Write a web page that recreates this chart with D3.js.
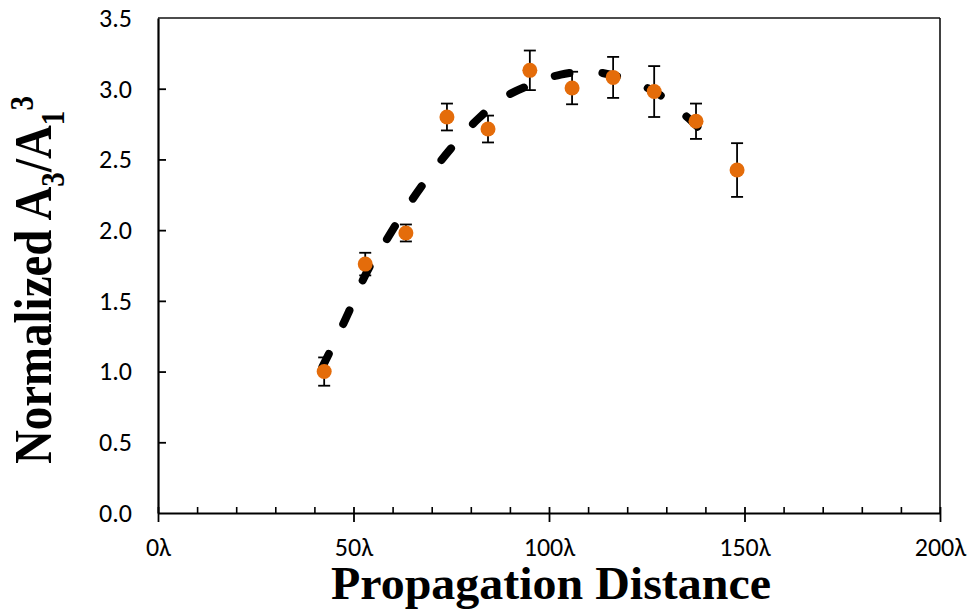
<!DOCTYPE html>
<html><head><meta charset="utf-8">
<script src="https://cdn.jsdelivr.net/npm/d3@7"></script>
<style>body{margin:0;background:#fff}svg{display:block}</style>
</head><body>
<svg id="c" width="968" height="611"></svg>
<script>
// Data
const distances = [42.5, 53, 63.4, 73.9, 84.4, 95.1, 105.9, 116.4, 126.9, 137.6, 148.1];
const ratios    = [1.00, 1.76, 1.98, 2.80, 2.715, 3.13, 3.005, 3.08, 2.98, 2.77, 2.425];
const errors    = [0.10, 0.08, 0.06, 0.095, 0.095, 0.14, 0.115, 0.145, 0.18, 0.125, 0.19];
const fitX = [42, 45, 48.6, 50.9, 54.7, 57.5, 63.4, 69.8, 75, 78.8, 82, 88, 95.5, 103, 111, 117, 122, 127.6, 135.3, 141.2];
const fitY = [1.03, 1.2, 1.41, 1.56, 1.77, 1.89, 2.15, 2.40, 2.58, 2.70, 2.79, 2.93, 3.03, 3.10, 3.12, 3.09, 3.04, 2.97, 2.80, 2.645];
const xTicks = [0, 50, 100, 150, 200];
const xMinorTicks = [10,20,30,40,60,70,80,90,110,120,130,140,160,170,180,190];
const yTicks = [0, 0.5, 1.0, 1.5, 2.0, 2.5, 3.0, 3.5];

const svg = d3.select("#c");
const L = 158, R = 940, T = 18, B = 513;
const x = d3.scaleLinear().domain([0, 200]).range([L, R]);
const y = d3.scaleLinear().domain([0, 3.5]).range([B, T]);
const tickFont = "Carlito, Lato, 'Open Sans', sans-serif";

// frame top & right
svg.append("line").attr("x1", L).attr("x2", R).attr("y1", T).attr("y2", T)
  .attr("stroke", "#111").attr("stroke-width", 1.6);
svg.append("line").attr("x1", R).attr("x2", R).attr("y1", T).attr("y2", B)
  .attr("stroke", "#111").attr("stroke-width", 1.6);

// y axis
const yAx = svg.append("g").attr("transform", `translate(${L},0)`)
  .call(d3.axisLeft(y).tickValues(yTicks).tickFormat(d3.format(".1f")).tickSizeInner(-8).tickSizeOuter(0).tickPadding(26));
yAx.select(".domain").attr("stroke", "#000").attr("stroke-width", 2.2);
yAx.selectAll(".tick line").attr("stroke", "#000").attr("stroke-width", 1.8)
  .filter(d => d === 0 || d === 3.5).remove();
yAx.selectAll("text").attr("font-family", tickFont).attr("font-size", 26).attr("fill", "#000");

// x axis minor ticks (inside)
svg.append("g").attr("transform", `translate(0,${B})`)
  .call(d3.axisBottom(x).tickValues(xMinorTicks).tickSize(-6).tickFormat(""))
  .call(g => g.select(".domain").remove())
  .selectAll("line").attr("stroke", "#000").attr("stroke-width", 1.6);
// x axis major ticks crossing
const xAx = svg.append("g").attr("transform", `translate(0,${B})`)
  .call(d3.axisBottom(x).tickValues(xTicks).tickFormat(d => d + "λ").tickSizeInner(9).tickSizeOuter(0).tickPadding(16));
xAx.select(".domain").attr("stroke", "#000").attr("stroke-width", 2.2);
xAx.selectAll(".tick line").attr("stroke", "#000").attr("stroke-width", 1.8).attr("y1", -6);
xAx.selectAll("text").attr("font-family", tickFont).attr("font-size", 26).attr("fill", "#000");

// fit curve (dashed)
const fitPts = fitX.map((d, i) => [d, fitY[i]]);
svg.append("path").datum(fitPts)
  .attr("d", d3.line().x(d => x(d[0])).y(d => y(d[1])).curve(d3.curveCatmullRom))
  .attr("fill", "none").attr("stroke", "#000").attr("stroke-width", 8)
  .attr("stroke-linecap", "round").attr("stroke-dasharray", "15 33");

// error bars
const pts = distances.map((d, i) => ({x: d, y: ratios[i], e: errors[i]}));
const eb = svg.append("g");
eb.selectAll(".v").data(pts).join("line")
  .attr("x1", d => x(d.x)).attr("x2", d => x(d.x))
  .attr("y1", d => y(d.y - d.e)).attr("y2", d => y(d.y + d.e))
  .attr("stroke", "#000").attr("stroke-width", 1.8);
["-", "+"].forEach(s => {
  eb.selectAll(".c" + (s === "+" ? "p" : "m")).data(pts).join("line")
    .attr("x1", d => x(d.x) - 6).attr("x2", d => x(d.x) + 6)
    .attr("y1", d => y(s === "+" ? d.y + d.e : d.y - d.e))
    .attr("y2", d => y(s === "+" ? d.y + d.e : d.y - d.e))
    .attr("stroke", "#000").attr("stroke-width", 1.8);
});

// points
svg.append("g").selectAll("circle").data(pts).join("circle")
  .attr("cx", d => x(d.x)).attr("cy", d => y(d.y)).attr("r", 7.5)
  .attr("fill", "#E46C0A");

// axis titles
svg.append("text").attr("x", (L + R) / 2 + 2).attr("y", 599)
  .attr("text-anchor", "middle").attr("font-family", "'Liberation Serif', 'Times New Roman', serif")
  .attr("font-weight", "bold").attr("font-size", 47).attr("fill", "#000")
  .attr("textLength", 440).attr("lengthAdjust", "spacingAndGlyphs")
  .text("Propagation Distance");

const yt = svg.append("text").attr("transform", "translate(51,280) rotate(-90) scale(0.885,1)")
  .attr("text-anchor", "middle").attr("font-family", "'Liberation Serif', 'Times New Roman', serif")
  .attr("font-weight", "bold").attr("font-size", 53).attr("fill", "#000");
yt.append("tspan").text("Normalized A");
yt.append("tspan").attr("font-size", 33).attr("dy", 13).text("3");
yt.append("tspan").attr("dy", -13).text("/A");
yt.append("tspan").attr("font-size", 33).attr("dy", 13).text("1");
yt.append("tspan").attr("font-size", 33).attr("dy", -31).text("3");
</script>
</body></html>
